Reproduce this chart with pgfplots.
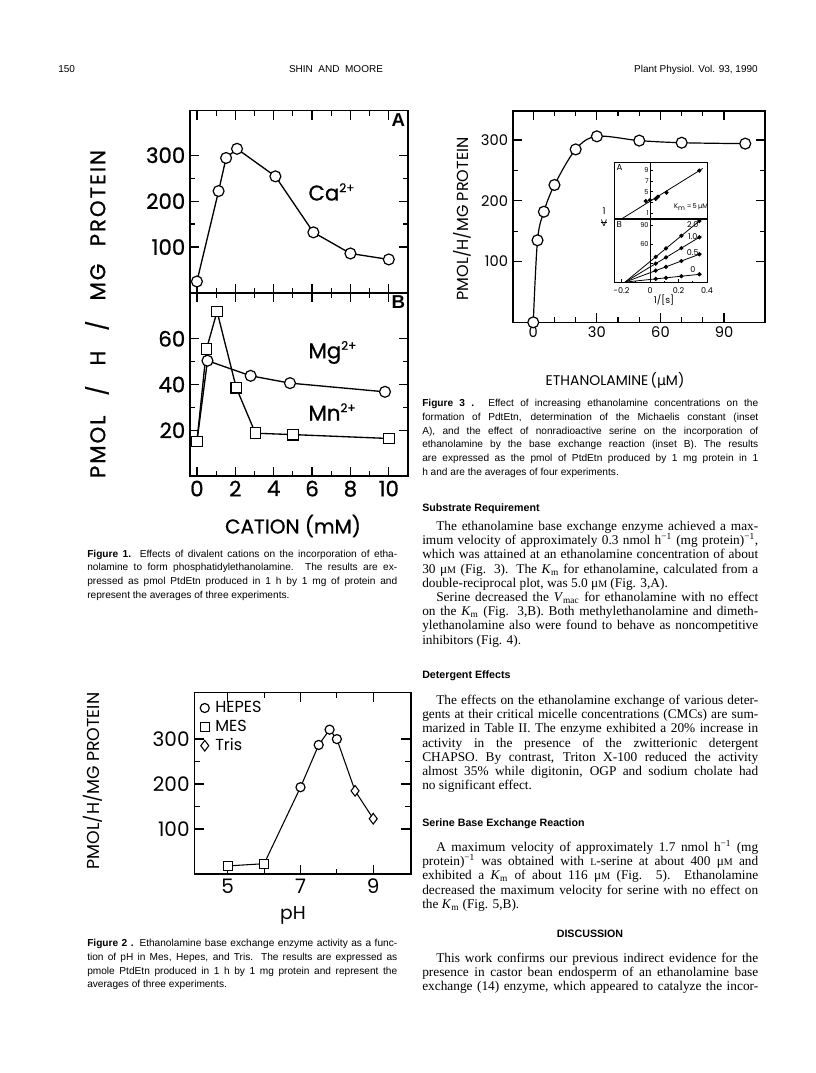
\documentclass[border=0pt]{standalone}
\usepackage{fontspec}
\setmainfont{Liberation Serif}
\newfontfamily\capfont{Liberation Sans}
\newfontfamily\plotfont{Poppins}
\newfontfamily\plotfontb{Poppins}[FakeBold=0.8]
\newfontfamily\plotfontsp{Poppins}[LetterSpace=9,FakeBold=0.8]
\newfontfamily\greekfont{DejaVu Sans}
\usepackage{pgfplots}
\pgfplotsset{compat=1.18}
\newcommand\fs[2]{\fontsize{#1}{#2}\selectfont}
\newcommand\jl[1]{\makebox[\linewidth][s]{#1}\par}
\newcommand\lastline[1]{\mbox{#1}\par}
\newcommand\smM{{\fs{7.5}{8}M}}
\newcommand\Km{\textit{K}\textsubscript{m}}
\pgfplotsset{
  paper/.style={scale only axis, anchor=north west, tick align=inside,
    axis line style={line width=1.2pt},
    every tick/.style={line width=0.9pt,black},
    major tick length=7pt, minor tick length=4pt},
  inset/.style={scale only axis, anchor=north west, tick align=inside,
    axis line style={line width=0.7pt},
    every tick/.style={line width=0.5pt,black},
    major tick length=2.5pt, minor tick length=1.5pt,
    axis background/.style={fill=white}},
  omark/.style={mark=*, mark options={fill=white, draw=black, line width=0.9pt, solid}},
}
\begin{document}
\begin{tikzpicture}
\begin{scope}[x=0.75pt,y=-0.75pt]
\fill[white] (0,0) rectangle (816,1073);
\path[use as bounding box] (0,0) rectangle (816,1073);
\coordinate (f1a) at (190,110.7);
\coordinate (f1b) at (190,293);
\coordinate (f2) at (194.3,692.3);
\coordinate (f3) at (512.7,111);
\coordinate (iA) at (614.3,162.7);
\coordinate (iB) at (614.3,219);

% header
\node[anchor=base west, inner sep=0, font=\capfont\fs{7.5}{9}] at (58,73) {150};
\node[anchor=base, inner sep=0, font=\capfont\fs{7.5}{9}] at (336,73) {SHIN\ \ AND\ \ MOORE};
\node[anchor=base east, inner sep=0, font=\capfont\fs{7.5}{9}] at (758,73) {Plant Physiol. Vol. 93,\ 1990};

% figure 1 labels
\node[rotate=90, inner sep=0, font=\plotfontsp\fs{16}{16}] at (97,314) {PMOL\hspace{15pt}/\hspace{15pt}H\hspace{15pt}/\hspace{15pt}MG\hspace{13pt}PROTEIN};
\node[inner sep=0, font=\plotfontb\fs{15}{15}] at (293,526) {CATION (mM)};

% figure 2 labels
\node[rotate=90, inner sep=0, font=\plotfont\fs{13}{13}] at (93,781) {PMOL/H/MG PROTEIN};
\node[inner sep=0, font=\plotfont\fs{14}{14}] at (293,915) {pH};

% figure 3 labels
\node[rotate=90, inner sep=0, font=\plotfont\fs{12}{12}] at (462,219) {PMOL/H/MG PROTEIN};
\node[inner sep=0, font=\plotfont\fs{10.5}{11}] at (615,380) {ETHANOLAMINE\,({\greekfont μ}M)};
\node[inner sep=0, font=\plotfont\fs{7}{7}] at (604,219) {\begin{tabular}{@{}c@{}}1\\[-1pt]\rule{5pt}{0.5pt}\\[-4pt]V\end{tabular}};
\node[inner sep=0, font=\plotfont\fs{7}{7}] at (664,300) {1/[s]};

% captions
\node[anchor=base west, inner sep=0] at (87,557) {\begin{minipage}[t]{232.5pt}\capfont\fs{7.6}{10.35}\parindent=0pt
\jl{\textbf{Figure 1.} Effects of divalent cations on the incorporation of etha-}
\jl{nolamine to form phosphatidylethanolamine. The results are ex-}
\jl{pressed as pmol PtdEtn produced in 1 h by 1 mg of protein and}
\lastline{represent the averages of three experiments.}
\end{minipage}};
\node[anchor=base west, inner sep=0] at (87,946.5) {\begin{minipage}[t]{232.5pt}\capfont\fs{7.6}{10.35}\parindent=0pt
\jl{\textbf{Figure 2 .} Ethanolamine base exchange enzyme activity as a func-}
\jl{tion of pH in Mes, Hepes, and Tris. The results are expressed as}
\jl{pmole PtdEtn produced in 1 h by 1 mg protein and represent the}
\lastline{averages of three experiments.}
\end{minipage}};
\node[anchor=base west, inner sep=0] at (422,406.5) {\begin{minipage}[t]{252pt}\capfont\fs{7.6}{10.35}\parindent=0pt
\jl{\textbf{Figure 3 .} Effect of increasing ethanolamine concentrations on the}
\jl{formation of PdtEtn, determination of the Michaelis constant (inset}
\jl{A), and the effect of nonradioactive serine on the incorporation of}
\jl{ethanolamine by the base exchange reaction (inset B). The results}
\jl{are expressed as the pmol of PtdEtn produced by 1 mg protein in 1}
\lastline{h and are the averages of four experiments.}
\end{minipage}};

% body text
\node[anchor=base west, inner sep=0, font=\capfont\bfseries\fs{8}{9}] at (422,511) {Substrate Requirement};
\node[anchor=base west, inner sep=0] at (422,530.5) {\begin{minipage}[t]{252pt}\fs{10}{10.65}\parindent=0pt
\jl{\hspace*{10.5pt}The ethanolamine base exchange enzyme achieved a max-}
\jl{imum velocity of approximately 0.3 nmol h\textsuperscript{−1} (mg protein)\textsuperscript{−1},}
\jl{which was attained at an ethanolamine concentration of about}
\jl{30 μ\smM\ (Fig. 3). The \Km\ for ethanolamine, calculated from a}
\lastline{double-reciprocal plot, was 5.0 μ\smM\ (Fig. 3,A).}
\jl{\hspace*{10.5pt}Serine decreased the \textit{V}\textsubscript{mac} for ethanolamine with no effect}
\jl{on the \Km\ (Fig. 3,B). Both methylethanolamine and dimeth-}
\jl{ylethanolamine also were found to behave as noncompetitive}
\lastline{inhibitors (Fig. 4).}
\end{minipage}};
\node[anchor=base west, inner sep=0, font=\capfont\bfseries\fs{8}{9}] at (422,678) {Detergent Effects};
\node[anchor=base west, inner sep=0] at (422,704.5) {\begin{minipage}[t]{252pt}\fs{10}{10.65}\parindent=0pt
\jl{\hspace*{10.5pt}The effects on the ethanolamine exchange of various deter-}
\jl{gents at their critical micelle concentrations (CMCs) are sum-}
\jl{marized in Table II. The enzyme exhibited a 20\% increase in}
\jl{activity in the presence of the zwitterionic detergent}
\jl{CHAPSO. By contrast, Triton X-100 reduced the activity}
\jl{almost 35\% while digitonin, OGP and sodium cholate had}
\lastline{no significant effect.}
\end{minipage}};
\node[anchor=base west, inner sep=0, font=\capfont\bfseries\fs{8}{9}] at (422,826) {Serine Base Exchange Reaction};
\node[anchor=base west, inner sep=0] at (422,851.5) {\begin{minipage}[t]{252pt}\fs{10}{10.65}\parindent=0pt
\jl{\hspace*{10.5pt}A maximum velocity of approximately 1.7 nmol h\textsuperscript{−1} (mg}
\jl{protein)\textsuperscript{−1} was obtained with {\fs{7.5}{8}L}-serine at about 400 μ\smM\ and}
\jl{exhibited a \Km\ of about 116 μ\smM\ (Fig. 5). Ethanolamine}
\jl{decreased the maximum velocity for serine with no effect on}
\lastline{the \Km\ (Fig. 5,B).}
\end{minipage}};
\node[anchor=base, inner sep=0, font=\capfont\bfseries\fs{8}{9}] at (590,937) {DISCUSSION};
\node[anchor=base west, inner sep=0] at (422,962.5) {\begin{minipage}[t]{252pt}\fs{10}{10.65}\parindent=0pt
\jl{\hspace*{10.5pt}This work confirms our previous indirect evidence for the}
\jl{presence in castor bean endosperm of an ethanolamine base}
\jl{exchange (14) enzyme, which appeared to catalyze the incor-}
\end{minipage}};
\end{scope}

% ---------- Figure 1 A ----------
\begin{axis}[paper, at={(f1a)}, width=163.5pt, height=136.7pt,
  xmin=-0.36, xmax=11, ymin=0, ymax=397,
  xtick={0,2,4,6,8,10}, xticklabels={}, minor x tick num=1,
  ytick={100,200,300}, yticklabels={100,200,300}, minor y tick num=1,
  yticklabel style={font=\plotfontb\fs{16}{16}}]
\addplot[line width=1pt, omark, mark size=4.1pt] coordinates {
 (0,25) (1.13,222) (1.52,294) (2.09,314) (4.09,254) (6.07,132) (8.0,86) (10.0,73)};
\node[anchor=north east, inner sep=2pt, font=\capfont\bfseries\fs{14}{14}] at (rel axis cs:1,1) {A};
\node[anchor=west, inner sep=0, font=\plotfontb\fs{16}{16}] at (axis cs:5.8,220) {Ca\textsuperscript{\fs{9}{9}2+}};
\end{axis}

% ---------- Figure 1 B ----------
\begin{axis}[paper, at={(f1b)}, width=163.5pt, height=137.25pt,
  xmin=-0.36, xmax=11, ymin=0, ymax=80,
  xtick={0,2,4,6,8,10}, xticklabels={0,2,4,6,8,10}, minor x tick num=1,
  ytick={20,40,60}, yticklabels={20,40,60}, minor y tick num=1,
  ticklabel style={font=\plotfontb\fs{16}{16}}]
\addplot[line width=1pt, omark, mark size=4.1pt, mark indices={2,3,4,5}] coordinates {
 (0,15) (0.55,50.4) (2.8,43.8) (4.85,40.6) (9.8,36.8)};
\addplot[line width=1pt, mark=square*, mark size=4pt, mark options={fill=white, draw=black, line width=0.9pt}] coordinates {
 (0,15.1) (0.5,55.5) (1.05,71.9) (2.05,38.6) (3.05,18.7) (5.0,18.1) (10,16.4)};
\node[anchor=north east, inner sep=2pt, font=\capfont\bfseries\fs{14}{14}] at (rel axis cs:1,1) {B};
\node[anchor=west, inner sep=0, font=\plotfontb\fs{16}{16}] at (axis cs:5.8,54) {Mg\textsuperscript{\fs{9}{9}2+}};
\node[anchor=west, inner sep=0, font=\plotfontb\fs{16}{16}] at (axis cs:5.8,28) {Mn\textsuperscript{\fs{9}{9}2+}};
\end{axis}

% ---------- Figure 2 ----------
\begin{axis}[paper, at={(f2)}, width=162.3pt, height=136.3pt,
  xmin=4.08, xmax=10.03, ymin=0, ymax=404,
  xtick={5,7,9}, xticklabels={5,7,9}, minor x tick num=1,
  ytick={100,200,300}, yticklabels={100,200,300}, minor y tick num=1,
  ticklabel style={font=\plotfont\fs{15}{15}},
  legend style={draw=none, fill=none, at={(0.02,0.97)}, anchor=north west,
    font=\plotfont\fs{12}{12}, row sep=1pt, inner sep=1pt,
    nodes={inner sep=1.5pt},
    /tikz/every odd column/.append style={column sep=3pt}},
  legend cell align=left]
\addplot[line width=0.8pt, forget plot] coordinates {
 (5,18) (6,23) (7,193) (7.5,287) (7.8,321) (8,300) (8.5,185) (9,123)};
\addplot[only marks, omark, mark size=3.4pt] coordinates {(7,193) (7.5,287) (7.8,321) (8,300)};
\addplot[only marks, mark=square*, mark size=3.3pt, mark options={fill=white, draw=black, line width=0.8pt}] coordinates {(5,18) (6,23)};
\addplot[only marks, mark=diamond*, mark size=4pt, mark options={fill=white, draw=black, line width=0.8pt}] coordinates {(8.5,185) (9,123)};
\legend{HEPES,MES,Tris}
\end{axis}

% ---------- Figure 3 ----------
\begin{axis}[paper, at={(f3)}, width=189.2pt, height=158.5pt,
  xmin=-9.7, xmax=109.3, ymin=0, ymax=347.7,
  xtick={0,30,60,90}, xticklabels={0,30,60,90}, minor x tick num=2,
  ytick={100,200,300}, yticklabels={100,200,300}, minor y tick num=1,
  ticklabel style={font=\plotfont\fs{11}{11}}]
\addplot[line width=0.9pt, smooth, tension=0.55, omark, mark size=4.1pt] coordinates {
 (0,0) (2,135) (5,182) (10,226) (20,284.5) (30,306) (50,299) (70,295.5) (100,294)};
\end{axis}

% ---------- Inset A ----------
\begin{axis}[inset, at={(iA)}, width=69.75pt, height=42.2pt,
  xmin=-0.2505, xmax=0.402, ymin=0, ymax=10.35, xtick=\empty, ytick=\empty]
\draw[line width=0.5pt] (axis cs:0,0) -- (axis cs:0,10.35);
\draw[line width=0.5pt] (axis cs:0,1) -- (axis cs:0.022,1);
\draw[line width=0.5pt] (axis cs:0,3) -- (axis cs:0.022,3);
\draw[line width=0.5pt] (axis cs:0,5) -- (axis cs:0.022,5);
\draw[line width=0.5pt] (axis cs:0,7) -- (axis cs:0.022,7);
\draw[line width=0.5pt] (axis cs:0,9) -- (axis cs:0.022,9);
\node[anchor=east, inner sep=0.8pt, font=\plotfont\fs{5}{5}] at (axis cs:0,1) {1};
\node[anchor=east, inner sep=0.8pt, font=\plotfont\fs{5}{5}] at (axis cs:0,5) {5};
\node[anchor=east, inner sep=0.8pt, font=\plotfont\fs{5}{5}] at (axis cs:0,7) {7};
\node[anchor=east, inner sep=0.8pt, font=\plotfont\fs{5}{5}] at (axis cs:0,9) {9};
\addplot[line width=0.6pt, no marks] coordinates {(-0.2,0) (0.37,9.29)};
\addplot[only marks, mark=*, mark size=1.4pt] coordinates {
 (-0.03,3.3) (0.0,3.45) (0.04,3.7) (0.055,4.1) (0.115,4.85) (0.346,8.9)};
\node[anchor=north west, inner sep=1.5pt, font=\plotfont\fs{6.5}{6.5}] at (rel axis cs:0,1) {A};
\node[inner sep=0, font=\plotfont\fs{5}{5}] at (axis cs:0.288,2.2) {K\textsubscript{m}\,=\,5\,{\greekfont μ}M};
\end{axis}

% ---------- Inset B ----------
\begin{axis}[inset, at={(iB)}, width=69.75pt, height=47.8pt,
  xmin=-0.2505, xmax=0.402, ymin=0, ymax=100,
  xtick={-0.2,0,0.2,0.4}, xticklabels={-0.2,0,0.2,0.4}, minor x tick num=1,
  xtick pos=bottom, ytick=\empty,
  xticklabel style={font=\plotfont\fs{6}{6}}]
\draw[line width=0.5pt] (axis cs:0,0) -- (axis cs:0,100);
\draw[line width=0.5pt] (axis cs:0,30) -- (axis cs:0.022,30);
\draw[line width=0.5pt] (axis cs:0,60) -- (axis cs:0.022,60);
\draw[line width=0.5pt] (axis cs:0,90) -- (axis cs:0.022,90);
\node[anchor=east, inner sep=0.8pt, font=\plotfont\fs{5}{5}] at (axis cs:0,60) {60};
\node[anchor=east, inner sep=0.8pt, font=\plotfont\fs{5}{5}] at (axis cs:0,90) {90};
\addplot[line width=0.6pt, no marks] coordinates {(-0.175,1) (0.36,99.4)};
\addplot[line width=0.6pt, no marks] coordinates {(-0.175,1) (0.36,73.2)};
\addplot[line width=0.6pt, no marks] coordinates {(-0.175,1) (0.36,45.8)};
\addplot[line width=0.6pt, no marks] coordinates {(-0.175,1) (0.36,13.5)};
\addplot[only marks, mark=*, mark size=1.4pt] coordinates {(0.04,40.6) (0.112,53.8) (0.22,73.7) (0.346,96.9)};
\addplot[only marks, mark=*, mark size=1.4pt] coordinates {(0.04,30.0) (0.112,39.7) (0.22,54.3) (0.346,71.3)};
\addplot[only marks, mark=*, mark size=1.4pt] coordinates {(0.04,19.0) (0.112,25.0) (0.22,34.1) (0.346,44.6)};
\addplot[only marks, mark=*, mark size=1.4pt] coordinates {(0.04,6.0) (0.112,7.7) (0.22,10.2) (0.346,13.2)};
\node[anchor=north west, inner sep=1.5pt, font=\plotfont\fs{6.5}{6.5}] at (rel axis cs:0,1) {B};
\node[inner sep=0, font=\plotfont\fs{6}{6}] at (axis cs:0.3,91) {2.0};
\node[inner sep=0, font=\plotfont\fs{6}{6}] at (axis cs:0.3,73) {1.0};
\node[inner sep=0, font=\plotfont\fs{6}{6}] at (axis cs:0.3,48) {0.5};
\node[inner sep=0, font=\plotfont\fs{6}{6}] at (axis cs:0.3,20) {0};
\end{axis}
\end{tikzpicture}
\end{document}
